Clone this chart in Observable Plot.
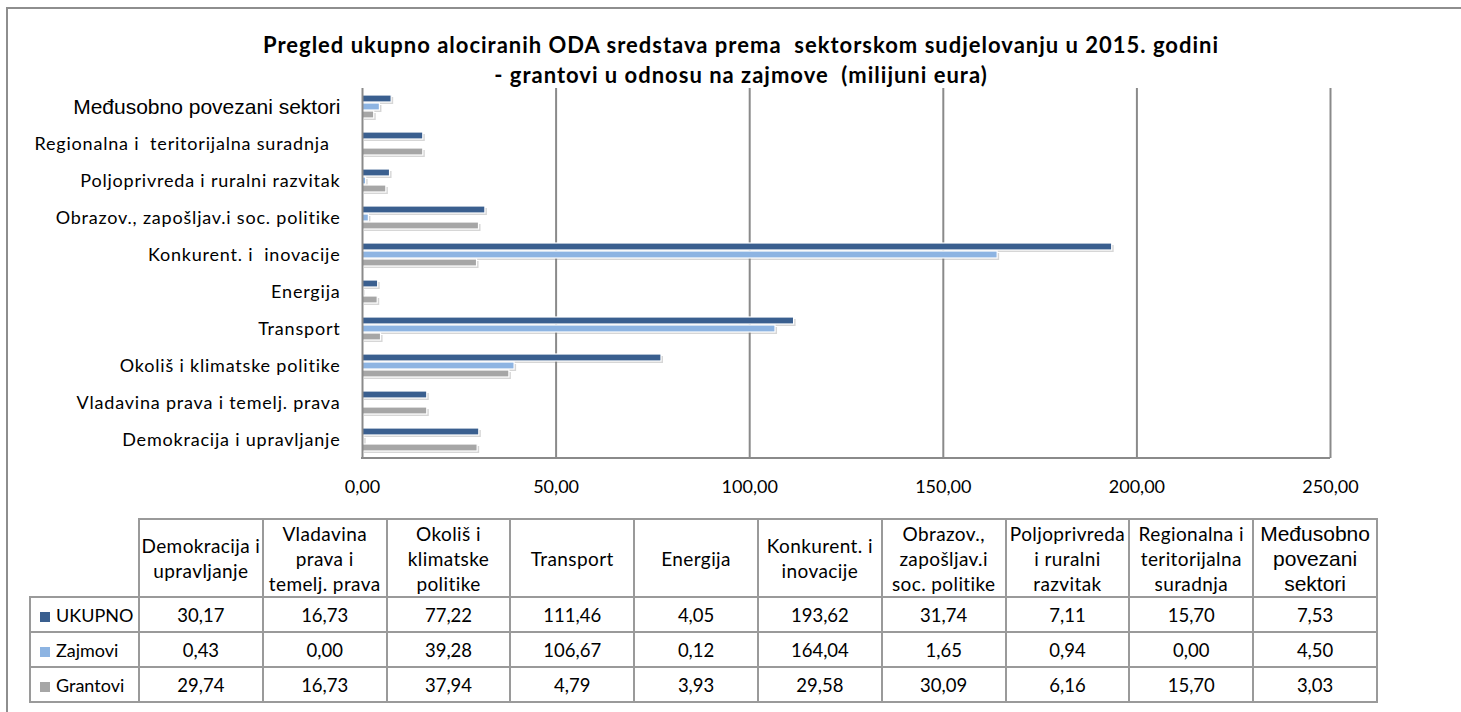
<!DOCTYPE html>
<html><head><meta charset="utf-8">
<script src="https://cdn.jsdelivr.net/npm/d3@7"></script>
<script src="https://cdn.jsdelivr.net/npm/@observablehq/plot@0.6"></script>
<style>
html,body{margin:0;padding:0;background:#fff;}
body{width:1461px;height:712px;overflow:hidden;position:relative;font-family:Lato, sans-serif;color:#000;}
#frame{position:absolute;left:6px;top:7px;width:1500px;height:800px;border:2px solid #8e8e8e;box-sizing:border-box;}
#title{position:absolute;left:0;top:30px;width:1482px;text-align:center;font-weight:bold;font-size:22px;letter-spacing:1px;line-height:30px;white-space:pre;}
#chart{position:absolute;left:0;top:80px;}
#chart svg text{white-space:pre;}
table{position:absolute;left:29px;top:518px;border-collapse:collapse;font-size:18.5px;table-layout:fixed;}
td{border:2px solid #9a9a9a;text-align:center;padding:0;box-sizing:border-box;}
tr.head td{height:78px;line-height:25px;white-space:pre-line;font-size:19px;letter-spacing:0.4px;}
tr.data td{height:35px;}
td.legend{text-align:left;padding-left:9px;font-size:18px;}
td.blank{border-top:none;border-left:none;}
.sw{display:inline-block;width:10px;height:10px;margin-right:6px;vertical-align:0px;}
</style>
</head><body>
<div id="frame"></div>
<div id="title">Pregled ukupno alociranih ODA sredstava prema  sektorskom sudjelovanju u 2015. godini
- grantovi u odnosu na zajmove  (milijuni eura)</div>
<div id="chart"></div>
<table id="tbl"></table>
<script>
const categories = ["Demokracija i upravljanje","Vladavina prava i temelj. prava","Okoliš i klimatske politike","Transport","Energija","Konkurent. i  inovacije","Obrazov., zapošljav.i soc. politike","Poljoprivreda i ruralni razvitak","Regionalna i  teritorijalna suradnja  ","Međusobno povezani sektori"];
const tableHeaders = ["Demokracija i\nupravljanje","Vladavina\nprava i\ntemelj. prava","Okoliš i\nklimatske\npolitike","Transport","Energija","Konkurent. i\ninovacije","Obrazov.,\nzapošljav.i\nsoc. politike","Poljoprivreda\ni ruralni\nrazvitak","Regionalna i\nteritorijalna\nsuradnja","Međusobno\npovezani\nsektori"];
const seriesNames = ["UKUPNO","Zajmovi","Grantovi"];
const seriesColors = ["#3A5F8F","#8DB4E2","#A6A6A6"];
const ukupno = [30.17,16.73,77.22,111.46,4.05,193.62,31.74,7.11,15.70,7.53];
const zajmovi = [0.43,0.00,39.28,106.67,0.12,164.04,1.65,0.94,0.00,4.50];
const grantovi = [29.74,16.73,37.94,4.79,3.93,29.58,30.09,6.16,15.70,3.03];
const xTicks = [0,50,100,150,200,250];

const values = [ukupno, zajmovi, grantovi];
const rows = categories.flatMap((c,i)=>seriesNames.map((s,j)=>({cat:c, series:s, value:values[j][i]})));
const fyDomain = categories.slice().reverse();
const fmt = d => d.toFixed(2).replace(".", ",");

const chart = Plot.plot({
  width:1461, height:430, marginLeft:362, marginRight:131, marginTop:8, marginBottom:52,
  style:{fontFamily:"Lato, sans-serif", fontSize:"18px", color:"#000", background:"transparent"},
  x:{domain:[0,250], ticks:xTicks, tickFormat:fmt, tickSize:0, tickPadding:22, label:null},
  fy:{domain:fyDomain, padding:0, label:null, tickSize:0, tickPadding:22},
  y:{domain:seriesNames, axis:null, paddingInner:0.125, paddingOuter:0.875},
  color:{domain:seriesNames, range:seriesColors},
  marks:[
    Plot.ruleX(xTicks.slice(1), {stroke:"#8a8a8a", strokeWidth:2}),
    Plot.barX(rows, {x:"value", y:"series", fy:"cat", fill:"#777", fillOpacity:0.3, dx:2, dy:2, ariaLabel:"shadow"}),
    Plot.barX(rows, {x:"value", y:"series", fy:"cat", fill:"series", stroke:"white", strokeWidth:1.2}),
    Plot.ruleX([0], {stroke:"#8a8a8a", strokeWidth:2})
  ]
});
document.getElementById("chart").appendChild(chart);
const svg = d3.select(chart);
svg.selectAll('g[aria-label="shadow"]').style("filter","blur(0.8px)");
svg.selectAll('g[aria-label="fy-axis tick label"] text, g[aria-label="fy-axis"] text')
  .style("letter-spacing","0.8px");
svg.selectAll("text").filter(function(){return this.textContent==="Međusobno povezani sektori";})
  .style("font-family","'Liberation Sans', Arial, sans-serif").style("font-size","21px").style("letter-spacing","0px");
const xs = chart.scale("x"), fys = chart.scale("fy");
const yb = fys.apply(fyDomain[fyDomain.length-1]) + fys.bandwidth;
svg.append("line").attr("x1", xs.apply(0)-1).attr("x2", xs.apply(250)).attr("y1", yb).attr("y2", yb)
  .attr("stroke","#8a8a8a").attr("stroke-width",2);

// data table
const tbl = d3.select("#tbl");
const colg = tbl.append("colgroup");
colg.append("col").style("width","109px");
categories.forEach(()=>colg.append("col").style("width","123.8px"));
const hr = tbl.append("tr").attr("class","head");
hr.append("td").attr("class","blank");
tableHeaders.forEach((h,i)=>{
  const td = hr.append("td").text(h);
  if (i===tableHeaders.length-1) td.style("font-family","'Liberation Sans', Arial, sans-serif").style("font-size","21px").style("letter-spacing","0px");
});
seriesNames.forEach((s,j)=>{
  const tr = tbl.append("tr").attr("class","data");
  const lc = tr.append("td").attr("class","legend");
  lc.append("span").attr("class","sw").style("background", seriesColors[j]);
  lc.append("span").text(s);
  values[j].forEach(v=>tr.append("td").text(fmt(v)));
});
</script>
</body></html>
